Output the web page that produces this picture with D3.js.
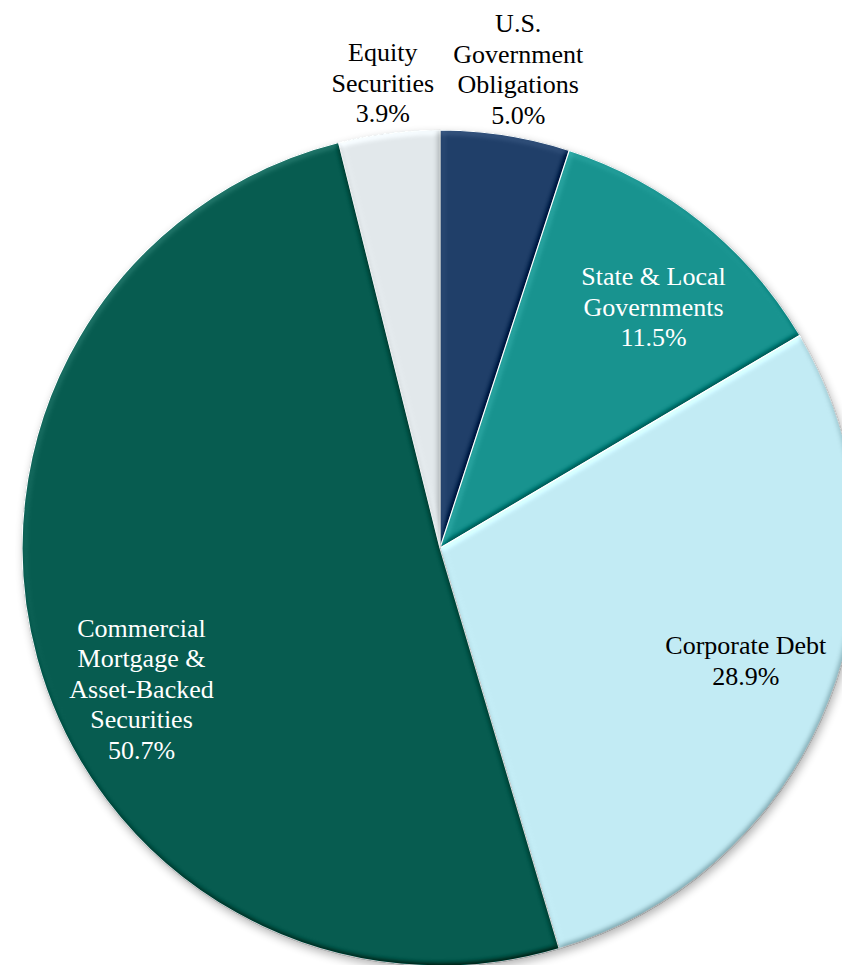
<!DOCTYPE html>
<html>
<head>
<meta charset="utf-8">
<script src="https://cdn.jsdelivr.net/npm/d3@7/dist/d3.min.js"></script>
<style>
  html, body { margin: 0; padding: 0; background: #ffffff; }
  svg { display: block; }
  text { font-family: "Times New Roman", "Liberation Serif", Times, serif; }
</style>
</head>
<body>
<svg id="chart" width="842" height="965"></svg>
<script>
// Investment portfolio composition (percent of total)
const categories = [
  "U.S. Government Obligations",
  "State & Local Governments",
  "Corporate Debt",
  "Commercial Mortgage & Asset-Backed Securities",
  "Equity Securities"
];
const shares = [5.0, 11.5, 28.9, 50.7, 3.9];
const labelLines = [
  ["U.S.", "Government", "Obligations"],
  ["State & Local", "Governments"],
  ["Corporate Debt"],
  ["Commercial", "Mortgage &", "Asset-Backed", "Securities"],
  ["Equity", "Securities"]
];

const width = 842, height = 965;
const cx = 440, cy = 548, R = 418;

const color = d3.scaleOrdinal()
  .domain(categories)
  .range(["#203f69", "#18938f", "#c2ebf4", "#075c50", "#e2e8eb"]);
const textColor = d3.scaleOrdinal()
  .domain(categories)
  .range(["#000000", "#ffffff", "#000000", "#ffffff", "#000000"]);

// label placement: radius factor and angular nudge (radians)
const labelRadius = d3.scaleOrdinal().domain(categories).range([1.16, 0.77, 0.78, 0.79, 1.12]);
const labelNudge  = d3.scaleOrdinal().domain(categories).range([0.005, 0.05, -0.02, -0.175, 0]);

const data = categories.map((c, i) => ({ category: c, value: shares[i], lines: labelLines[i] }));

const svg = d3.select("#chart");
const defs = svg.append("defs");

// soft drop shadow behind the pie
const shadow = defs.append("filter").attr("id", "shadow")
  .attr("x", "-10%").attr("y", "-10%").attr("width", "120%").attr("height", "120%");
shadow.append("feGaussianBlur").attr("stdDeviation", 5);

// bevel: diffuse lighting on blurred alpha, re-centred so flat areas stay unchanged
const elev = 55;
const kLight = 0.5;
const bevel = defs.append("filter").attr("id", "bevel")
  .attr("color-interpolation-filters", "sRGB")
  .attr("x", "-5%").attr("y", "-5%").attr("width", "110%").attr("height", "110%");
bevel.append("feGaussianBlur").attr("in", "SourceAlpha").attr("stdDeviation", 3).attr("result", "b");
const diff = bevel.append("feDiffuseLighting").attr("in", "b")
  .attr("surfaceScale", 3).attr("diffuseConstant", 1)
  .attr("lighting-color", "#ffffff").attr("result", "d");
diff.append("feDistantLight").attr("azimuth", 240).attr("elevation", elev);
bevel.append("feComposite").attr("in", "SourceGraphic").attr("in2", "d")
  .attr("operator", "arithmetic")
  .attr("k1", 0).attr("k2", 1).attr("k3", kLight).attr("k4", -kLight * Math.sin(elev * Math.PI / 180))
  .attr("result", "lit");
bevel.append("feComposite").attr("in", "lit").attr("in2", "SourceAlpha").attr("operator", "in");

const g = svg.append("g").attr("transform", `translate(${cx},${cy})`);

g.append("circle")
  .attr("cx", 2).attr("cy", 4).attr("r", R)
  .attr("fill", "#000").attr("opacity", 0.3)
  .attr("filter", "url(#shadow)");

const pie = d3.pie().sort(null).value(d => d.value);
const arcs = pie(data);
const arc = d3.arc().innerRadius(0).outerRadius(R);

g.selectAll("path.slice")
  .data(arcs)
  .join("path")
  .attr("class", "slice")
  .attr("d", arc)
  .attr("fill", d => color(d.data.category))
  .attr("stroke", "#f4f8f9")
  .attr("stroke-width", 1.2)
  .attr("stroke-linejoin", "round")
  .attr("filter", "url(#bevel)");

const fmt = d3.format(".1f");
const lineH = 30.4;
const fontSize = 26;

const labels = g.selectAll("g.label")
  .data(arcs)
  .join("g")
  .attr("class", "label")
  .attr("transform", d => {
    const a = (d.startAngle + d.endAngle) / 2 + labelNudge(d.data.category);
    const r = R * labelRadius(d.data.category);
    return `translate(${r * Math.sin(a)},${-r * Math.cos(a)})`;
  });

labels.each(function(d) {
  const lines = d.data.lines.concat([fmt(d.data.value) + "%"]);
  const n = lines.length;
  const t = d3.select(this).append("text")
    .attr("text-anchor", "middle")
    .attr("font-size", fontSize)
    .attr("fill", textColor(d.data.category));
  lines.forEach((s, i) => {
    t.append("tspan")
      .attr("x", 0)
      .attr("y", -(n - 1) * lineH / 2 + i * lineH + 8.5)
      .text(s);
  });
});
</script>
</body>
</html>
